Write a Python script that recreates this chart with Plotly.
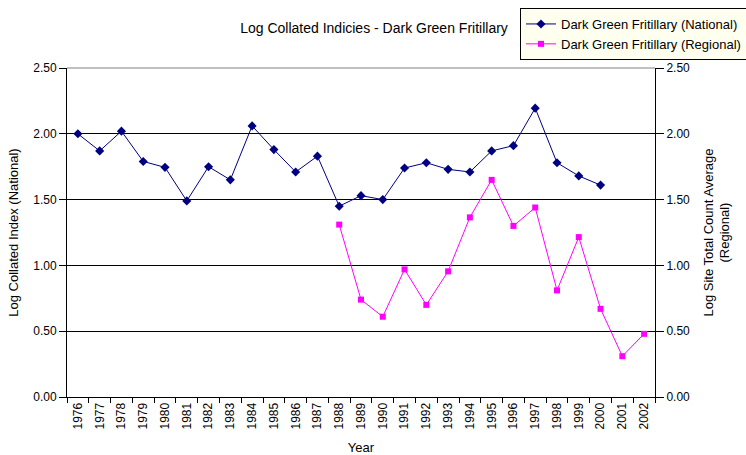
import plotly.graph_objects as go

years = [str(y) for y in range(1976, 2003)]
national = [2.00, 1.87, 2.02, 1.79, 1.745, 1.49, 1.75, 1.65, 2.06, 1.88, 1.71, 1.83,
            1.45, 1.53, 1.50, 1.74, 1.78, 1.73, 1.71, 1.87, 1.91, 2.195, 1.78, 1.68, 1.61,
            None, None]
regional_years = [str(y) for y in range(1988, 2003)]
regional = [1.31, 0.74, 0.61, 0.97, 0.70, 0.955, 1.365, 1.65, 1.30, 1.44, 0.81, 1.215,
            0.67, 0.31, 0.48]
y_ticks = [0, 0.5, 1.0, 1.5, 2.0, 2.5]

FONT = "Liberation Sans, Arial, sans-serif"

fig = go.Figure()
fig.add_trace(go.Scatter(
    x=years, y=national, name="Dark Green Fritillary (National)",
    mode="lines+markers", line=dict(color="#000080", width=1),
    marker=dict(symbol="diamond", size=7, color="#000080"),
    connectgaps=False))
fig.add_trace(go.Scatter(
    x=regional_years, y=regional, name="Dark Green Fritillary (Regional)",
    mode="lines+markers", line=dict(color="#FF00FF", width=1),
    marker=dict(symbol="square", size=6, color="#FF00FF"),
    yaxis="y2"))

fig.update_layout(
    width=746, height=455,
    margin=dict(l=67, r=91, t=68, b=58, autoexpand=False),
    paper_bgcolor="white", plot_bgcolor="white",
    font=dict(family=FONT, size=12, color="black"),
    title=dict(text="Log Collated Indicies - Dark Green Fritillary",
               x=374/746, xanchor="center", y=1-28/455, yanchor="middle",
               font=dict(size=14, family=FONT)),
    showlegend=True,
    legend=dict(xref="container", yref="container",
                x=520/746, xanchor="left", y=1-8/455, yanchor="top",
                bgcolor="#FFFFF0", bordercolor="black", borderwidth=1,
                font=dict(size=13, family=FONT), tracegroupgap=0,
                itemwidth=30),
    xaxis=dict(type="category", categoryorder="array", categoryarray=years,
               tickangle=-90, ticks="outside", tickson="boundaries", ticklen=5,
               tickcolor="black", showline=True, linecolor="black", linewidth=1,
               showgrid=False, tickfont=dict(size=12),
               title=dict(text="Year", font=dict(size=13), standoff=14),
               range=[-0.5, 26.5]),
    yaxis=dict(range=[0, 2.5], tickvals=y_ticks, tickformat=".2f",
               ticks="outside", ticklen=7, tickcolor="black",
               showline=True, linecolor="black", linewidth=1,
               showgrid=True, gridcolor="black", gridwidth=1,
               zeroline=False, tickfont=dict(size=12),
               title=dict(text="Log Collated Index (National)", font=dict(size=13), standoff=11)),
    yaxis2=dict(range=[0, 2.5], tickvals=y_ticks, tickformat=".2f",
                overlaying="y", side="right",
                ticks="outside", ticklen=8, tickcolor="black",
                showline=True, linecolor="black", linewidth=1,
                showgrid=False, zeroline=False, tickfont=dict(size=12)),
)
fig.add_annotation(text="Log Site Total Count Average<br>(Regional)",
                   xref="paper", yref="paper", x=(716-67)/588, y=0.5,
                   xanchor="center", yanchor="middle", textangle=-90,
                   showarrow=False, font=dict(size=13, family=FONT))
# top border of plot area
fig.add_shape(type="line", xref="paper", yref="paper", x0=0, x1=1, y0=1, y1=1,
              line=dict(color="#808080", width=1))

fig.write_html("out.html", config={"displayModeBar": False},
               post_script="document.body.style.margin='0px';")
